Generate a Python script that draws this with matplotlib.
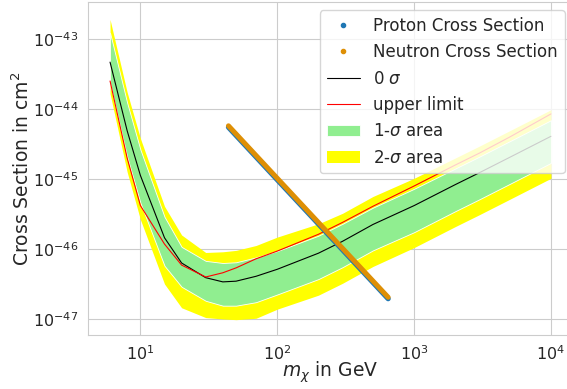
import numpy as np
import matplotlib
matplotlib.use("Agg")
import matplotlib.pyplot as plt
import seaborn as sns

sns.set_style("whitegrid")

# WIMP masses in GeV
mass = [6, 8, 10, 15, 20, 30, 40, 50, 70, 100, 200, 300, 500, 1000, 2000, 3000, 5000, 10000]

# log10 of cross sections (cm^2)
median_log = [-43.33, -44.31, -44.95, -45.84, -46.20, -46.41, -46.47, -46.46, -46.39, -46.29,
              -46.06, -45.89, -45.65, -45.38, -45.08, -44.91, -44.69, -44.39]
upper_log = [-43.60, -44.70, -45.38, -45.93, -46.23, -46.40, -46.34, -46.27, -46.14, -46.03,
             -45.79, -45.62, -45.39, -45.10, -44.80, -44.63, -44.40, -44.07]
one_sig_hi = [-42.91, -43.91, -44.58, -45.54, -45.97, -46.17, -46.20, -46.19, -46.12, -46.03,
              -45.81, -45.64, -45.41, -45.14, -44.85, -44.68, -44.46, -44.16]
one_sig_lo = [-43.63, -44.68, -45.34, -46.24, -46.54, -46.74, -46.81, -46.81, -46.76, -46.65,
              -46.43, -46.26, -46.02, -45.76, -45.46, -45.29, -45.07, -44.77]
two_sig_hi = [-42.72, -43.76, -44.42, -45.39, -45.80, -46.05, -46.04, -46.02, -45.95, -45.83,
              -45.64, -45.49, -45.25, -44.99, -44.70, -44.53, -44.31, -44.01]
two_sig_lo = [-43.78, -44.90, -45.58, -46.50, -46.84, -46.98, -47.00, -47.01, -46.99, -46.86,
              -46.66, -46.49, -46.25, -45.98, -45.68, -45.51, -45.29, -44.99]

# model prediction (proton / neutron)
model_mass = [44, 100, 646]
proton_log = [-44.26, -45.01, -46.71]
neutron_log = [-44.24, -44.99, -46.69]

m = np.array(mass)
p = lambda v: 10.0 ** np.array(v)

fig = plt.figure(figsize=(5.67, 3.89), dpi=100)
ax = fig.add_axes([88 / 567, 54 / 389, 485 / 567, 333 / 389])

ax.fill_between(m, p(two_sig_lo), p(two_sig_hi), color="yellow", lw=0, label="2-$\\sigma$ area", zorder=1)
ax.fill_between(m, p(one_sig_lo), p(one_sig_hi), facecolor="lightgreen", edgecolor="white", lw=0.6,
                label="1-$\\sigma$ area", zorder=2)
ax.plot(m, p(median_log), color="black", lw=0.8, label="0 $\\sigma$", zorder=3)
ax.plot(m, p(upper_log), color="red", lw=0.8, label="upper limit", zorder=3)

blue = "#1f77b4"
orange = "#de8f05"
ax.plot(model_mass, p(proton_log), color=blue, lw=3.8, solid_capstyle="round", zorder=4)
ax.plot(model_mass, p(neutron_log), color=orange, lw=3.6, solid_capstyle="round", zorder=5)
ax.plot([], [], ".", color=blue, label="Proton Cross Section")
ax.plot([], [], ".", color=orange, label="Neutron Cross Section")

ax.set_xscale("log")
ax.set_yscale("log")
ax.set_xlim(10 ** 0.617, 10 ** 4.161)
ax.set_ylim(10 ** -47.229, 10 ** -42.471)

ax.tick_params(labelsize=11.5)
ax.set_xlabel("$m_\\chi$ in GeV", fontsize=13.5, labelpad=-3)
ax.set_ylabel("Cross Section in cm$^2$", fontsize=13.5, labelpad=0)

handles, labels = ax.get_legend_handles_labels()
order = ["Proton Cross Section", "Neutron Cross Section", "0 $\\sigma$", "upper limit",
         "1-$\\sigma$ area", "2-$\\sigma$ area"]
hl = dict(zip(labels, handles))
ax.legend([hl[k] for k in order], order, loc="upper right", fontsize=12)

fig.savefig("out.png", dpi=100)
